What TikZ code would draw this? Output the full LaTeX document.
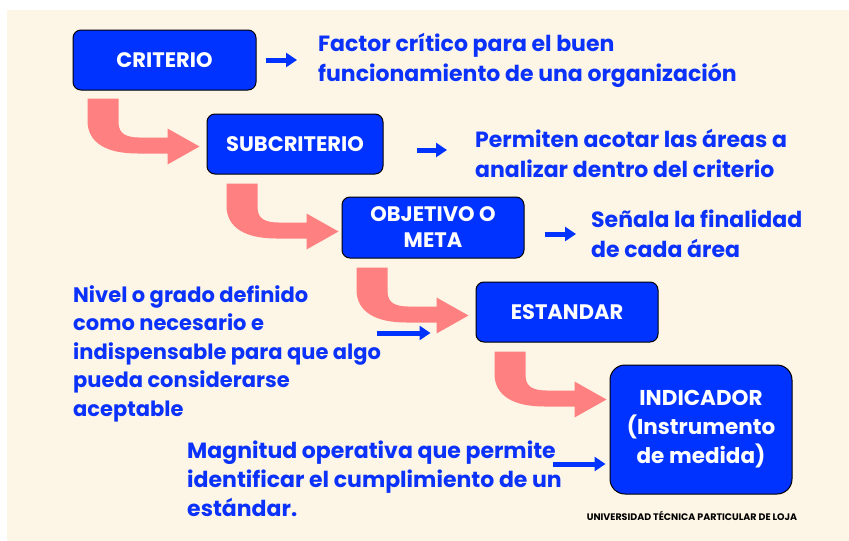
\documentclass[tikz,border=0pt]{standalone}
\usepackage{fontspec}
\setmainfont{Poppins}
\usetikzlibrary{arrows.meta,calc}

\begin{document}
\begin{tikzpicture}[x=1pt, y=-1pt, line join=round,
    box/.style={draw=black, line width=1pt, fill=boxblue, rounded corners=8pt, text=white,
        align=center, inner sep=0pt, font=\bfseries\fontsize{21}{26}\selectfont},
    desc/.style={anchor=west, align=left, inner sep=0pt, text=textblue,
        font=\bfseries\fontsize{22}{30}\selectfont},
    link/.style={boxblue, line width=5pt, -{Triangle[length=11pt, width=14pt]}},
    turnarrow/.pic={
        \fill[salmon] (0,0) -- (31,0) -- (31,24) .. controls (31,36) and (40,39) .. (52,39)
            -- (80,39) -- (80,30) -- (112,48) -- (80,66) -- (80,55) -- (50,55)
            .. controls (20,55) and (0,45) .. (0,22) -- cycle;
    }]
        \definecolor{boxblue}{RGB}{0,51,255}
        \definecolor{textblue}{RGB}{10,50,250}
        \definecolor{salmon}{RGB}{255,128,128}
        \definecolor{paper}{RGB}{253,245,229}

        \fill[white] (0,0) rectangle (849,541);
        \fill[paper] (7,10) rectangle (849,541);
        \useasboundingbox (0,0) rectangle (849,541);

        \node[box, minimum width=183, minimum height=60] (crit) at (164.5,60) {CRITERIO};
        \node[box, minimum width=176, minimum height=60] (sub) at (295,144) {SUBCRITERIO};
        \node[box, minimum width=182, minimum height=61] (obj) at (433,227.5) {OBJETIVO O\\META};
        \node[box, minimum width=182, minimum height=60] (est) at (567,312) {ESTANDAR};
        \node[box, minimum width=182, minimum height=129, rounded corners=15pt,
            font=\bfseries\fontsize{21.5}{29}\selectfont] (ind) at (701,429.5)
            {INDICADOR\\(Instrumento\\de medida)};

        \node[desc] (t1) at (318,60) {Factor crítico para el buen\\funcionamiento de una organización};
        \node[desc] (t2) at (475,153.5) {Permiten acotar las áreas a\\analizar dentro del criterio};
        \node[desc] (t3) at (591,234) {Señala la finalidad\\de cada área};
        \node[desc, font=\bfseries\fontsize{21}{28.5}\selectfont] (t4) at (73,353.5)
            {Nivel o grado definido\\como necesario e\\indispensable para que algo\\pueda considerarse\\aceptable};
        \node[desc, font=\bfseries\fontsize{22}{29}\selectfont] (t5) at (187,479)
            {Magnitud operativa que permite\\identificar el cumplimiento de un\\estándar.};
        \node[inner sep=0pt, font=\bfseries\fontsize{9.5}{11}\selectfont] (uni) at (692,516)
            {UNIVERSIDAD TÉCNICA PARTICULAR DE LOJA};

        \pic at ($(crit.south west)+(15,8)$) {turnarrow};
        \pic at ($(sub.south west)+(20,9)$) {turnarrow};
        \pic at ($(obj.south west)+(15,9)$) {turnarrow};
        \pic at ($(est.south west)+(19,9)$) {turnarrow};

        \draw[link] ([xshift=9]crit.east) -- ([xshift=-21]t1.west);
        \draw[link] ([xshift=33,yshift=3.5]sub.east |- t2.west) -- ([xshift=-28,yshift=3.5]t2.west);
        \draw[link] ([xshift=20]obj.east |- t3.west) -- ([xshift=-15]t3.west);
        \draw[link] ([xshift=-99,yshift=-21]est.west) -- ([xshift=-45,yshift=-21]est.west);
        \draw[link] ([xshift=-57,yshift=-34.5]ind.west) -- ([xshift=-4,yshift=-34.5]ind.west);
    \end{tikzpicture}
\end{document}
